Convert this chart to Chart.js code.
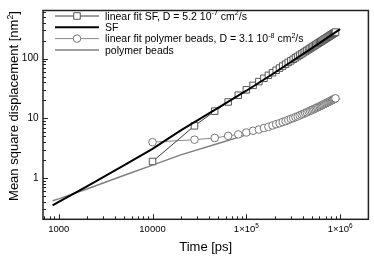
<!DOCTYPE html>
<html>
<head>
<meta charset="utf-8">
<script src="https://cdn.jsdelivr.net/npm/chart.js@4.4.0/dist/chart.umd.min.js"></script>
<style>
  html, body { margin: 0; padding: 0; background: #fff; }
  #wrap { width: 374px; height: 264px; }
</style>
</head>
<body>
<div id="wrap"><canvas id="msdChart" width="374" height="264"></canvas></div>
<script>
// Sampled times of the linear fits [ps]
const fitTimes = [10000, 28000, 46000, 64000, 82000, 100000, 118000, 136000, 154000, 172000,
  190000, 208000, 226000, 244000, 262000, 280000, 298000, 316000, 334000, 352000,
  370000, 388000, 406000, 424000, 442000, 460000, 478000, 496000, 514000, 532000,
  550000, 568000, 586000, 604000, 622000, 640000, 658000, 676000, 694000, 712000,
  730000, 748000, 766000, 784000, 802000, 820000, 838000, 856000, 874000, 892000];
// linear fit SF [nm^2]
const fitSF = [1.9, 7.5, 13.2, 18.8, 24.4, 30.0, 35.6, 41.2, 46.8, 52.5,
  58.1, 63.7, 69.3, 74.9, 80.5, 86.2, 91.8, 97.4, 103, 108.6,
  114.2, 119.9, 125.5, 131.1, 136.7, 142.3, 147.9, 153.6, 159.2, 164.8,
  170.4, 176, 181.6, 187.2, 192.9, 198.5, 204.1, 209.7, 215.3, 220.9,
  226.6, 232.2, 237.8, 243.4, 249, 254.6, 260.3, 265.9, 271.5, 277.1];
// linear fit polymer beads [nm^2]
const fitBeads = [4.0, 4.4, 4.7, 5.1, 5.4, 5.8, 6.2, 6.5, 6.9, 7.2,
  7.6, 8.0, 8.3, 8.7, 9.0, 9.4, 9.8, 10.1, 10.5, 10.8,
  11.2, 11.6, 11.9, 12.3, 12.6, 13.0, 13.4, 13.7, 14.1, 14.4,
  14.8, 15.2, 15.5, 15.9, 16.2, 16.6, 17.0, 17.3, 17.7, 18.0,
  18.4, 18.8, 19.1, 19.5, 19.8, 20.2, 20.6, 20.9, 21.3, 21.6];

// SF curve
const sfTimes = [860, 1000, 2000, 5000, 10000, 20000, 50000, 100000, 200000, 500000, 1000000];
const sfMSD = [0.35, 0.40, 0.73, 1.65, 3.1, 6.3, 15, 29, 58, 150, 310];

// polymer beads curve
const beadsTimes = [860, 1000, 2000, 5000, 10000, 20000, 50000, 100000, 200000, 300000, 500000, 700000, 1000000];
const beadsMSD = [0.42, 0.45, 0.66, 1.12, 1.65, 2.45, 3.8, 5.3, 7.5, 9.5, 13.3, 17.0, 21.5];

const legendLabels = [
  'linear fit SF, D = 5.2 10^{-7} cm^{2}/s',
  'SF',
  'linear fit polymer beads, D = 3.1 10^{-8} cm^{2}/s',
  'polymer beads'
];
const xTickValues = [1000, 10000, 100000, 1000000];
const xTickLabels = ['1000', '10000', '1\u00d710^{5}', '1\u00d710^{6}'];
const yTickValues = [1, 10, 100];
const yTickLabels = ['1', '10', '100'];
const xTitle = 'Time [ps]';
const yTitle = 'Mean square displacement [nm^{2}]';

const FONT = '"Liberation Sans", Arial, Helvetica, sans-serif';

function toPoints(xs, ys) {
  return xs.map((x, i) => ({ x: x, y: ys[i] }));
}

// text with ^{...} superscripts, y = baseline
function drawRich(ctx, str, x, y, size, align) {
  const parts = [];
  const re = /\^\{([^}]*)\}/g;
  let last = 0, m;
  while ((m = re.exec(str))) {
    if (m.index > last) parts.push([str.slice(last, m.index), false]);
    parts.push([m[1], true]);
    last = re.lastIndex;
  }
  if (last < str.length) parts.push([str.slice(last), false]);
  const fontFor = sup => (sup ? size * 0.68 : size) + 'px ' + FONT;
  let total = 0;
  parts.forEach(p => { ctx.font = fontFor(p[1]); total += ctx.measureText(p[0]).width; });
  let cx = align === 'center' ? x - total / 2 : (align === 'right' ? x - total : x);
  ctx.textAlign = 'left';
  ctx.textBaseline = 'alphabetic';
  parts.forEach(p => {
    ctx.font = fontFor(p[1]);
    ctx.fillText(p[0], cx, p[1] ? y - size * 0.42 : y);
    cx += ctx.measureText(p[0]).width;
  });
}

const datasets = [
  {
    label: legendLabels[0],
    data: toPoints(fitTimes, fitSF),
    borderColor: '#3a3a3a',
    borderWidth: 1,
    pointStyle: 'rect',
    pointRadius: 4.6,
    pointBorderColor: '#555',
    pointBackgroundColor: '#fff',
    pointBorderWidth: 1,
    order: 1
  },
  {
    label: legendLabels[1],
    data: toPoints(sfTimes, sfMSD),
    borderColor: '#000',
    borderWidth: 2,
    pointRadius: 0,
    order: 0
  },
  {
    label: legendLabels[2],
    data: toPoints(fitTimes, fitBeads),
    borderColor: '#888',
    borderWidth: 1,
    pointStyle: 'circle',
    pointRadius: 3.8,
    pointBorderColor: '#777',
    pointBackgroundColor: '#fff',
    pointBorderWidth: 1,
    order: 2
  },
  {
    label: legendLabels[3],
    data: toPoints(beadsTimes, beadsMSD),
    borderColor: '#808080',
    borderWidth: 1.5,
    pointRadius: 0,
    order: 3
  }
];

// frame, inward ticks, x labels, titles and legend
const decorPlugin = {
  id: 'msdDecor',
  afterDraw(chart) {
    const ctx = chart.ctx;
    const a = chart.chartArea;
    const xs = chart.scales.x;
    const ys = chart.scales.y;
    ctx.save();

    ctx.strokeStyle = '#222';
    ctx.lineWidth = 1.5;
    ctx.strokeRect(a.left, a.top, a.right - a.left, a.bottom - a.top);

    ctx.lineWidth = 1;
    ctx.beginPath();
    for (let d = -1; d <= 6; d++) {
      for (let k = 1; k <= 9; k++) {
        const v = k * Math.pow(10, d);
        const len = k === 1 ? 5 : 3;
        if (v >= xs.min && v <= xs.max) {
          const px = Math.round(xs.getPixelForValue(v)) + 0.5;
          ctx.moveTo(px, a.bottom);
          ctx.lineTo(px, a.bottom - len);
        }
        if (v >= ys.min && v <= ys.max) {
          const py = Math.round(ys.getPixelForValue(v)) + 0.5;
          ctx.moveTo(a.left, py);
          ctx.lineTo(a.left + len, py);
        }
      }
    }
    ctx.stroke();

    ctx.fillStyle = '#000';
    xTickValues.forEach((v, i) => {
      drawRich(ctx, xTickLabels[i], xs.getPixelForValue(v), a.bottom + 13, 9.5, 'center');
    });

    drawRich(ctx, xTitle, (a.left + a.right) / 2, 251, 13, 'center');

    ctx.save();
    ctx.translate(18, 106);
    ctx.rotate(-Math.PI / 2);
    drawRich(ctx, yTitle, 0, 0, 13, 'center');
    ctx.restore();

    // legend
    const rows = [16, 27.3, 38.6, 50];
    const x0 = 55, x1 = 99, xm = 77;
    chart.data.datasets.forEach((ds, i) => {
      const y = rows[i];
      ctx.strokeStyle = ds.borderColor;
      ctx.lineWidth = ds.borderWidth;
      ctx.beginPath();
      ctx.moveTo(x0, y);
      ctx.lineTo(x1, y);
      ctx.stroke();
      if (ds.pointRadius > 0) {
        ctx.lineWidth = 1;
        ctx.strokeStyle = ds.pointBorderColor;
        ctx.fillStyle = '#fff';
        Chart.helpers.drawPoint(ctx, {
          pointStyle: ds.pointStyle,
          radius: ds.pointRadius,
          borderWidth: 1,
          rotation: 0
        }, xm, y);
      }
      ctx.fillStyle = '#000';
      drawRich(ctx, legendLabels[i], 105, y + 3.7, 10.5, 'left');
    });

    ctx.restore();
  }
};

const msdChart = new Chart(document.getElementById('msdChart'), {
  type: 'line',
  data: { datasets: datasets },
  options: {
    responsive: false,
    animation: false,
    events: [],
    layout: { padding: { top: 5, right: 5.5, left: 0, bottom: 0 } },
    elements: { line: { tension: 0 } },
    plugins: {
      legend: { display: false },
      tooltip: { enabled: false }
    },
    scales: {
      x: {
        type: 'logarithmic',
        min: 680,
        max: 2000000,
        grid: { display: false, drawTicks: false },
        border: { display: false },
        ticks: { display: false },
        afterFit: s => { s.height = 44.7; }
      },
      y: {
        type: 'logarithmic',
        min: 0.205,
        max: 637,
        grid: { display: false, drawTicks: false },
        border: { display: false },
        afterBuildTicks: s => { s.ticks = yTickValues.map(v => ({ value: v })); },
        ticks: {
          autoSkip: false,
          padding: 4.5,
          color: '#000',
          font: { family: FONT, size: 10 },
          callback: v => {
            const i = yTickValues.indexOf(v);
            return i >= 0 ? yTickLabels[i] : '';
          }
        },
        afterFit: s => { s.width = 43; }
      }
    }
  },
  plugins: [decorPlugin]
});
</script>
</body>
</html>
